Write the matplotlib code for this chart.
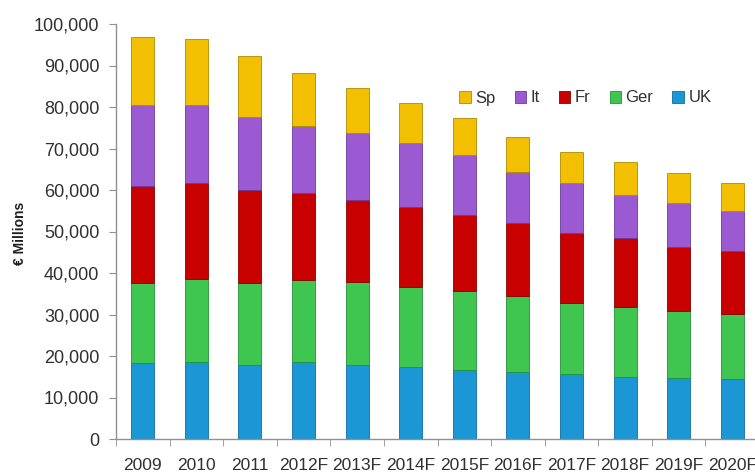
import matplotlib
matplotlib.use("Agg")
import matplotlib.pyplot as plt
from matplotlib.ticker import FuncFormatter, FixedLocator
import numpy as np

plt.rcParams['font.family'] = ['Liberation Sans', 'DejaVu Sans']

years = ["2009", "2010", "2011", "2012F", "2013F", "2014F", "2015F",
         "2016F", "2017F", "2018F", "2019F", "2020F"]
uk  = [18300, 18600, 17800, 18600, 17800, 17400, 16600, 16100, 15600, 15000, 14700, 14500]
ger = [19300, 20000, 19800, 19700, 20000, 19200, 19100, 18400, 17200, 16800, 16100, 15600]
fr  = [23400, 23100, 22400, 21000, 19800, 19300, 18300, 17500, 16800, 16600, 15500, 15200]
it  = [19500, 18800, 17600, 16100, 16100, 15400, 14400, 12300, 12100, 10400, 10600, 9700]
sp  = [16400, 15800, 14700, 12800, 10900, 9700, 8900, 8500, 7500, 7900, 7200, 6700]

series = [("UK", uk, "#1c97d6", "#0e6fa3"),
          ("Ger", ger, "#3fc650", "#23913a"),
          ("Fr", fr, "#c80000", "#8a0000"),
          ("It", it, "#9c5ad2", "#6c3a9c"),
          ("Sp", sp, "#f2c000", "#b08a00")]

fig = plt.figure(figsize=(7.55, 4.75), dpi=100)
ax = fig.add_axes([116/755, 36/475, 643/755, 415/475])

x = np.arange(len(years))
bottom = np.zeros(len(years))
handles = {}
for name, vals, col, edge in series:
    v = np.array(vals, dtype=float)
    b = ax.bar(x, v, 0.43, bottom=bottom, color=col, edgecolor=edge,
               linewidth=0.6, label=name, zorder=2)
    handles[name] = b
    bottom += v

ax.set_xlim(-0.5, len(years) - 0.5)
ax.set_ylim(0, 100000)
ax.yaxis.set_major_locator(FixedLocator(np.arange(0, 100001, 10000)))
ax.yaxis.set_major_formatter(FuncFormatter(lambda v, p: f"{int(v):,}"))
ax.set_xticks(x)
ax.set_xticklabels(years)
ax.set_xticks(np.arange(-0.5, len(years), 1.0), minor=True)
ax.tick_params(axis='x', which='major', length=0, pad=14, labelsize=12.5, labelcolor="#303030")
ax.tick_params(axis='x', which='minor', length=5, color="#909090", direction='out')
ax.tick_params(axis='y', length=5, color="#909090", labelsize=13, labelcolor="#303030", pad=7)

for s in ["top", "right"]:
    ax.spines[s].set_visible(False)
for s in ["left", "bottom"]:
    ax.spines[s].set_color("#909090")
    ax.spines[s].set_linewidth(1.0)

fig.text(20/755, 1 - 233/475, "€ Millions", rotation=90, ha="center", va="center",
         fontsize=10, fontweight="bold", color="#202020")

order = ["Sp", "It", "Fr", "Ger", "UK"]
leg = ax.legend([handles[n] for n in order], order, ncol=5, frameon=False,
                loc="center left", fontsize=12,
                handlelength=0.7, handleheight=0.7, handletextpad=0.25,
                columnspacing=1.15, labelcolor="#303030", borderpad=0)
leg.set_bbox_to_anchor((451/755, 1 - 98/475), transform=fig.transFigure)

fig.savefig("out.png", dpi=100)
